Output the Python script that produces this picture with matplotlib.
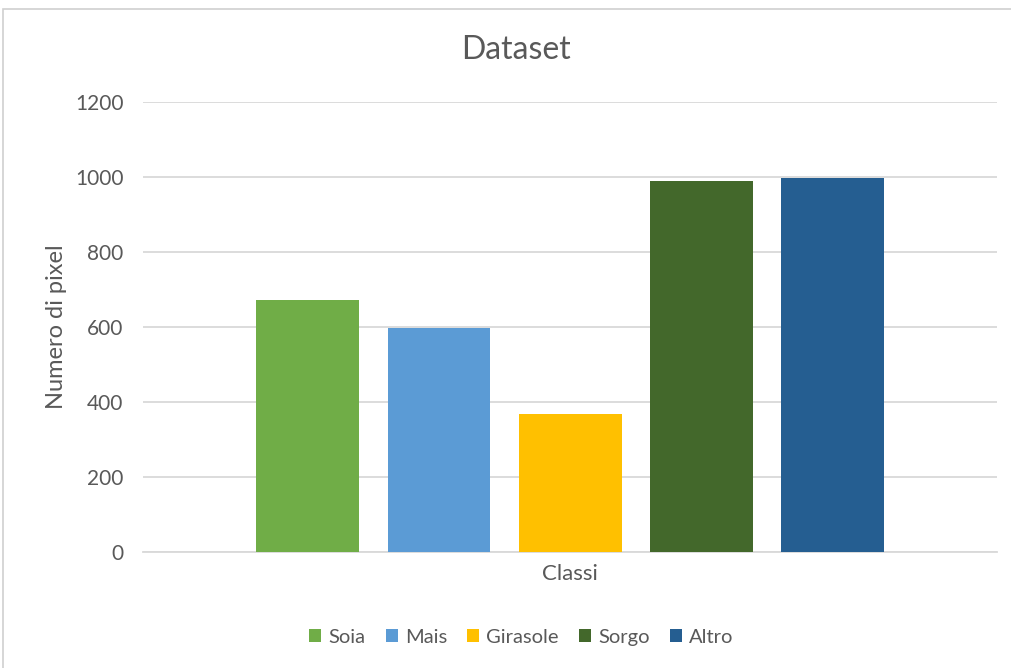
import matplotlib
matplotlib.use("Agg")
import matplotlib.pyplot as plt
from matplotlib.patches import Rectangle, Patch

# Pixel counts per class
classes = ["Soia", "Mais", "Girasole", "Sorgo", "Altro"]
counts = [672, 596, 367, 990, 998]
colors = ["#70AD47", "#5B9BD5", "#FFC000", "#43682B", "#255E91"]
yticks = [0, 200, 400, 600, 800, 1000, 1200]

text_color = "#595959"
grid_color = "#D9D9D9"
plt.rcParams["font.family"] = ["Lato", "DejaVu Sans"]

fig = plt.figure(figsize=(10.12, 6.68), dpi=100)
fig.patch.set_facecolor("white")
ax = fig.add_axes([0.1413, 0.1741, 0.8439, 0.6728])

# One category group with the five classes side by side
step = 0.1534
width = 0.1206
n = len(classes)
for i, (name, val, col) in enumerate(zip(classes, counts, colors)):
    x = 0.5 + (i - (n - 1) / 2) * step
    ax.bar(x, val, width=width, color=col, label=name, zorder=3)

ax.set_xlim(0, 1)
ax.set_ylim(0, 1200)
ax.set_yticks(yticks)
ax.set_xticks([])
ax.yaxis.grid(True, color=grid_color, linewidth=1.3, zorder=0)
for s in ["top", "right", "left"]:
    ax.spines[s].set_visible(False)
ax.spines["bottom"].set_color(grid_color)
ax.spines["bottom"].set_linewidth(1.3)
ax.tick_params(axis="y", length=0, pad=14, labelsize=15, labelcolor=text_color)

fig.text(0.51, 0.925, "Dataset", fontsize=23, color=text_color,
         ha="center", va="center")
ax.set_xlabel("Classi", fontsize=16, color=text_color, labelpad=9)
ax.set_ylabel("Numero di pixel", fontsize=17, color=text_color, labelpad=6)

handles = [Patch(facecolor=c, label=l) for l, c in zip(classes, colors)]
fig.legend(handles=handles, loc="center", bbox_to_anchor=(0.515, 0.046),
           ncol=5, frameon=False, fontsize=14.5, labelcolor=text_color,
           handlelength=0.6, handleheight=0.6, handletextpad=0.35,
           columnspacing=1.0)

# Chart area border
fig.patches.append(Rectangle((0.003, -0.01), 1.2, 0.9958,
                             transform=fig.transFigure, fill=False,
                             edgecolor="#D0D0D0", linewidth=1.2))

fig.savefig("out.png", dpi=100)
